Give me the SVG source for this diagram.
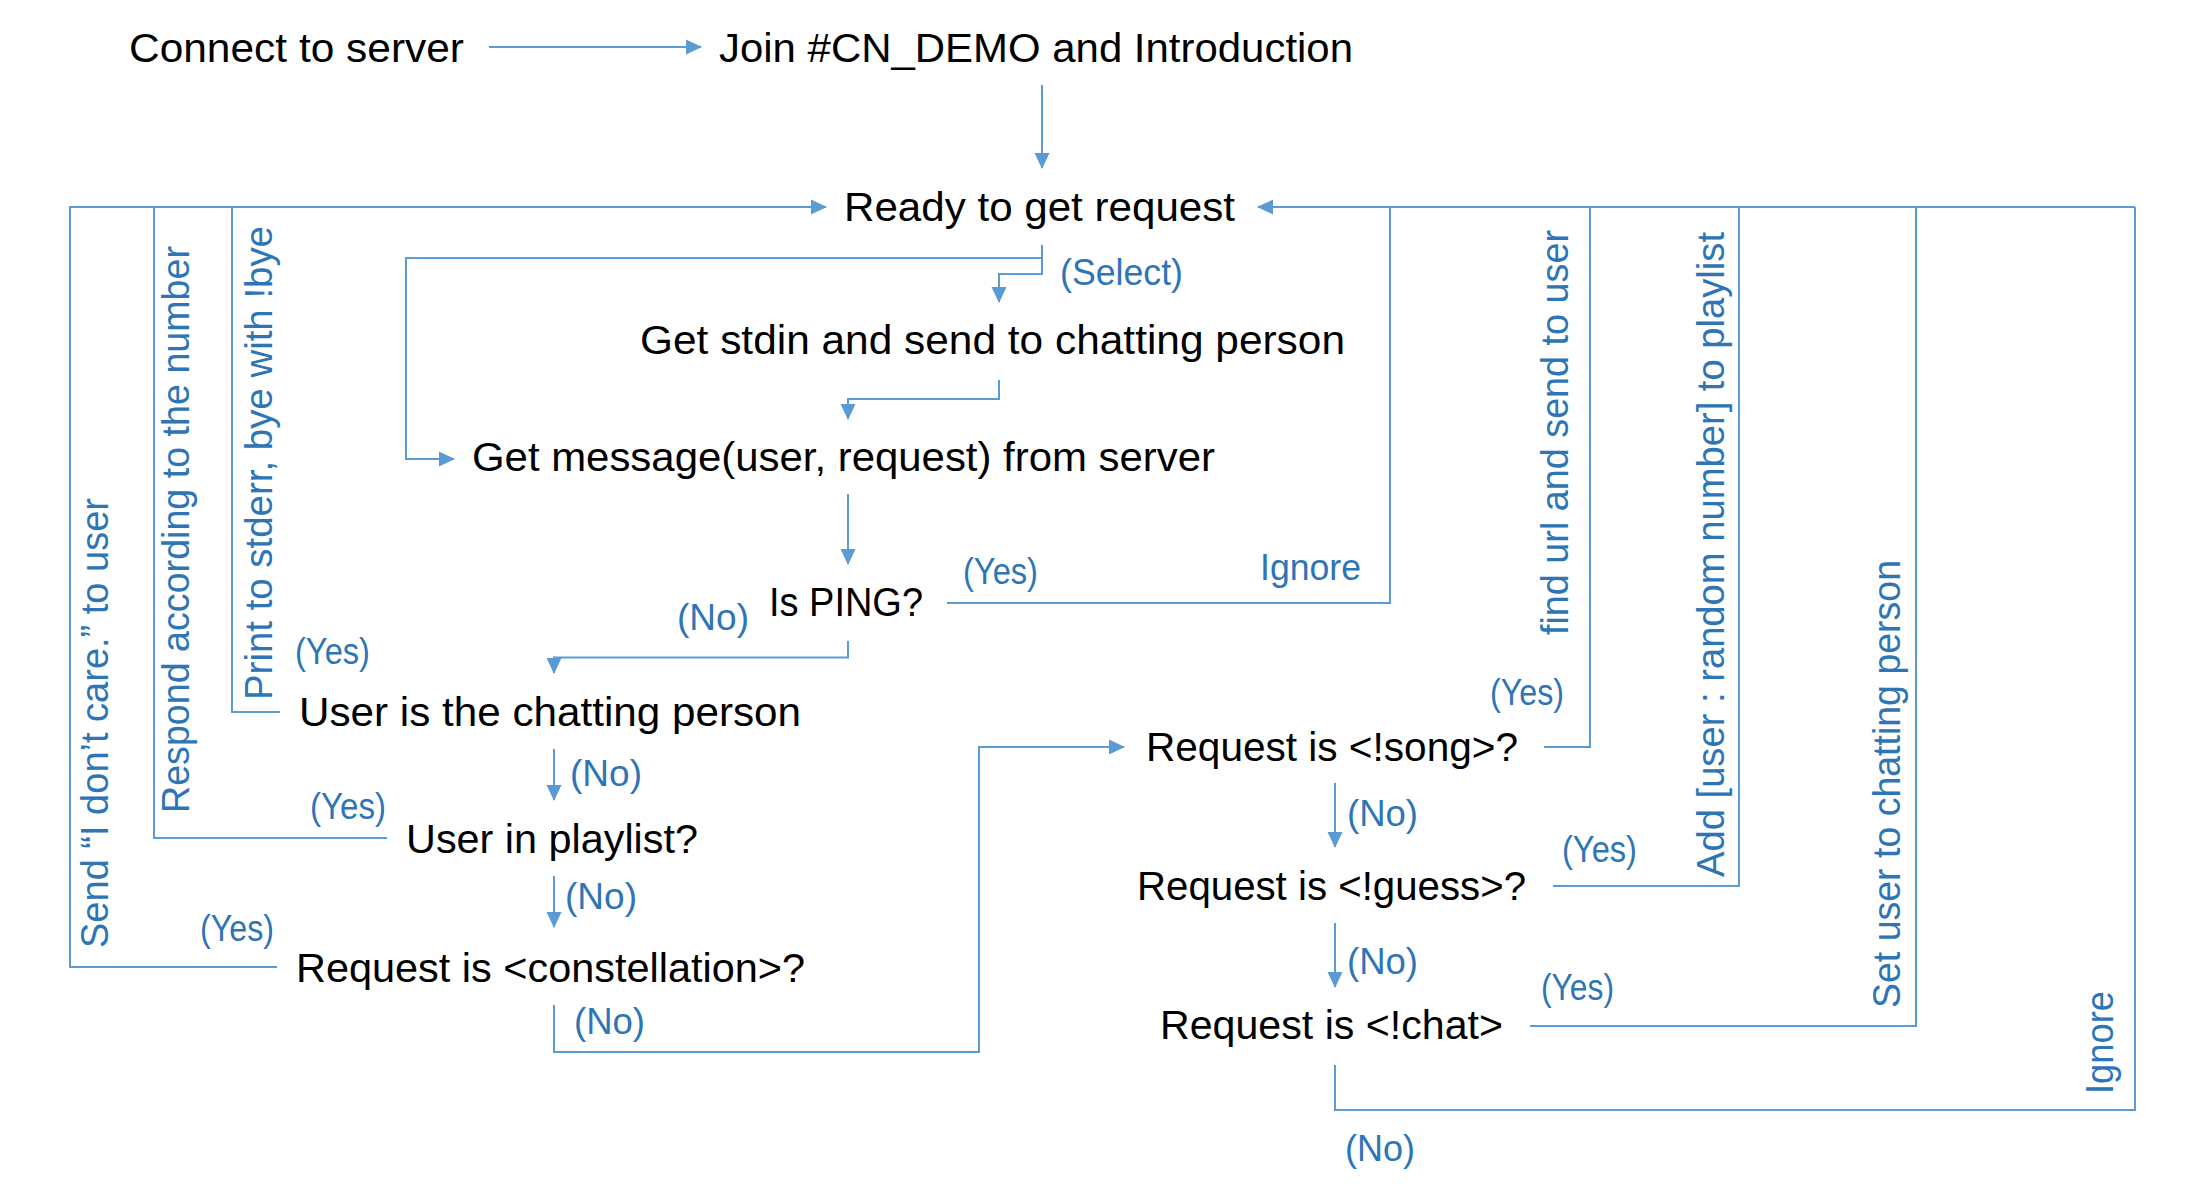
<svg xmlns="http://www.w3.org/2000/svg" width="2204" height="1188" viewBox="0 0 2204 1188">
<style>
.n{font-family:"Liberation Sans",Arial,sans-serif;font-size:41px;fill:#000}
.l{font-family:"Liberation Sans",Arial,sans-serif;font-size:36px;fill:#2E75B6}
.v{font-family:"Liberation Sans",Arial,sans-serif;font-size:38px;fill:#2E75B6}
.c{fill:none;stroke:#5B9BD5;stroke-width:2}
.a{marker-end:url(#ah)}
</style>
<defs>
<marker id="ah" markerUnits="userSpaceOnUse" viewBox="0 0 16 16" refX="15" refY="8" markerWidth="16" markerHeight="16" orient="auto"><path d="M0,0.5L16,8L0,15.5z" fill="#5B9BD5"/></marker>
</defs>
<rect width="2204" height="1188" fill="#fff"/>

<g id="connectors">
<path class="c a" d="M489,47H701"/>
<path class="c a" d="M1042,85V168"/>
<path class="c a" d="M1042,245V274H999V302"/>
<path class="c a" d="M1042,258H406V459H454"/>
<path class="c a" d="M999,380V399H848V419"/>
<path class="c a" d="M848,494V564"/>
<path class="c a" d="M947,603H1390V207H1258"/>
<path class="c" d="M1390,207H2135"/>
<path class="c a" d="M848,641V657.5H554V673"/>
<path class="c a" d="M280,712H232V207H826"/>
<path class="c a" d="M554,749V800"/>
<path class="c" d="M387,838H154V207"/>
<path class="c a" d="M554,876V927"/>
<path class="c" d="M277,967H70V207H232"/>
<path class="c a" d="M554,1005V1052H979V747H1124"/>
<path class="c" d="M1544,747H1590V207"/>
<path class="c a" d="M1335,783V847"/>
<path class="c" d="M1553,886H1739V207"/>
<path class="c a" d="M1335,923V987"/>
<path class="c" d="M1530,1026H1916V207"/>
<path class="c" d="M1335,1065V1110H2135V207"/>
</g>

<g id="connector-labels">
<text class="l" x="1060" y="285" textLength="123" lengthAdjust="spacingAndGlyphs">(Select)</text>
<text class="l" x="963" y="584" textLength="75" lengthAdjust="spacingAndGlyphs">(Yes)</text>
<text class="l" x="1260" y="580" textLength="101" lengthAdjust="spacingAndGlyphs">Ignore</text>
<text class="l" x="677" y="630" textLength="72" lengthAdjust="spacingAndGlyphs">(No)</text>
<text class="l" x="295" y="664" textLength="75" lengthAdjust="spacingAndGlyphs">(Yes)</text>
<text class="l" x="570" y="786" textLength="72" lengthAdjust="spacingAndGlyphs">(No)</text>
<text class="l" x="310" y="819" textLength="76" lengthAdjust="spacingAndGlyphs">(Yes)</text>
<text class="l" x="565" y="909" textLength="72" lengthAdjust="spacingAndGlyphs">(No)</text>
<text class="l" x="200" y="941" textLength="74" lengthAdjust="spacingAndGlyphs">(Yes)</text>
<text class="l" x="574" y="1034" textLength="71" lengthAdjust="spacingAndGlyphs">(No)</text>
<text class="l" x="1490" y="705" textLength="74" lengthAdjust="spacingAndGlyphs">(Yes)</text>
<text class="l" x="1347" y="826" textLength="71" lengthAdjust="spacingAndGlyphs">(No)</text>
<text class="l" x="1562" y="862" textLength="75" lengthAdjust="spacingAndGlyphs">(Yes)</text>
<text class="l" x="1347" y="974" textLength="71" lengthAdjust="spacingAndGlyphs">(No)</text>
<text class="l" x="1541" y="1000" textLength="73" lengthAdjust="spacingAndGlyphs">(Yes)</text>
<text class="l" x="1345" y="1161" textLength="70" lengthAdjust="spacingAndGlyphs">(No)</text>
<text class="v" transform="translate(108,948) rotate(-90)" textLength="450" lengthAdjust="spacingAndGlyphs">Send “I don’t care.” to user</text>
<text class="v" transform="translate(189,813) rotate(-90)" textLength="567" lengthAdjust="spacingAndGlyphs">Respond according to the number</text>
<text class="v" transform="translate(272,700) rotate(-90)" textLength="474" lengthAdjust="spacingAndGlyphs">Print to stderr, bye with !bye</text>
<text class="v" transform="translate(1568,635) rotate(-90)" textLength="405" lengthAdjust="spacingAndGlyphs">find url and send to user</text>
<text class="v" transform="translate(1724,877) rotate(-90)" textLength="645" lengthAdjust="spacingAndGlyphs">Add [user : random number] to playlist</text>
<text class="v" transform="translate(1900,1008) rotate(-90)" textLength="448" lengthAdjust="spacingAndGlyphs">Set user to chatting person</text>
<text class="v" transform="translate(2113,1094) rotate(-90)" textLength="103" lengthAdjust="spacingAndGlyphs">Ignore</text>
</g>

<g id="connect"><text class="n" x="129" y="62" textLength="335" lengthAdjust="spacingAndGlyphs">Connect to server</text></g>
<g id="join"><text class="n" x="719" y="62" textLength="634" lengthAdjust="spacingAndGlyphs">Join #CN_DEMO and Introduction</text></g>
<g id="ready"><text class="n" x="844" y="221" textLength="391" lengthAdjust="spacingAndGlyphs">Ready to get request</text></g>
<g id="stdin"><text class="n" x="640" y="354" textLength="705" lengthAdjust="spacingAndGlyphs">Get stdin and send to chatting person</text></g>
<g id="getmsg"><text class="n" x="472" y="471" textLength="743" lengthAdjust="spacingAndGlyphs">Get message(user, request) from server</text></g>
<g id="ping"><text class="n" x="769" y="616" textLength="154" lengthAdjust="spacingAndGlyphs">Is PING?</text></g>
<g id="chatting"><text class="n" x="299" y="726" textLength="502" lengthAdjust="spacingAndGlyphs">User is the chatting person</text></g>
<g id="playlist"><text class="n" x="406" y="853" textLength="292" lengthAdjust="spacingAndGlyphs">User in playlist?</text></g>
<g id="constellation"><text class="n" x="296" y="982" textLength="509" lengthAdjust="spacingAndGlyphs">Request is &lt;constellation&gt;?</text></g>
<g id="song"><text class="n" x="1146" y="761" textLength="372" lengthAdjust="spacingAndGlyphs">Request is &lt;!song&gt;?</text></g>
<g id="guess"><text class="n" x="1137" y="900" textLength="389" lengthAdjust="spacingAndGlyphs">Request is &lt;!guess&gt;?</text></g>
<g id="chat"><text class="n" x="1160" y="1039" textLength="343" lengthAdjust="spacingAndGlyphs">Request is &lt;!chat&gt;</text></g>
</svg>
